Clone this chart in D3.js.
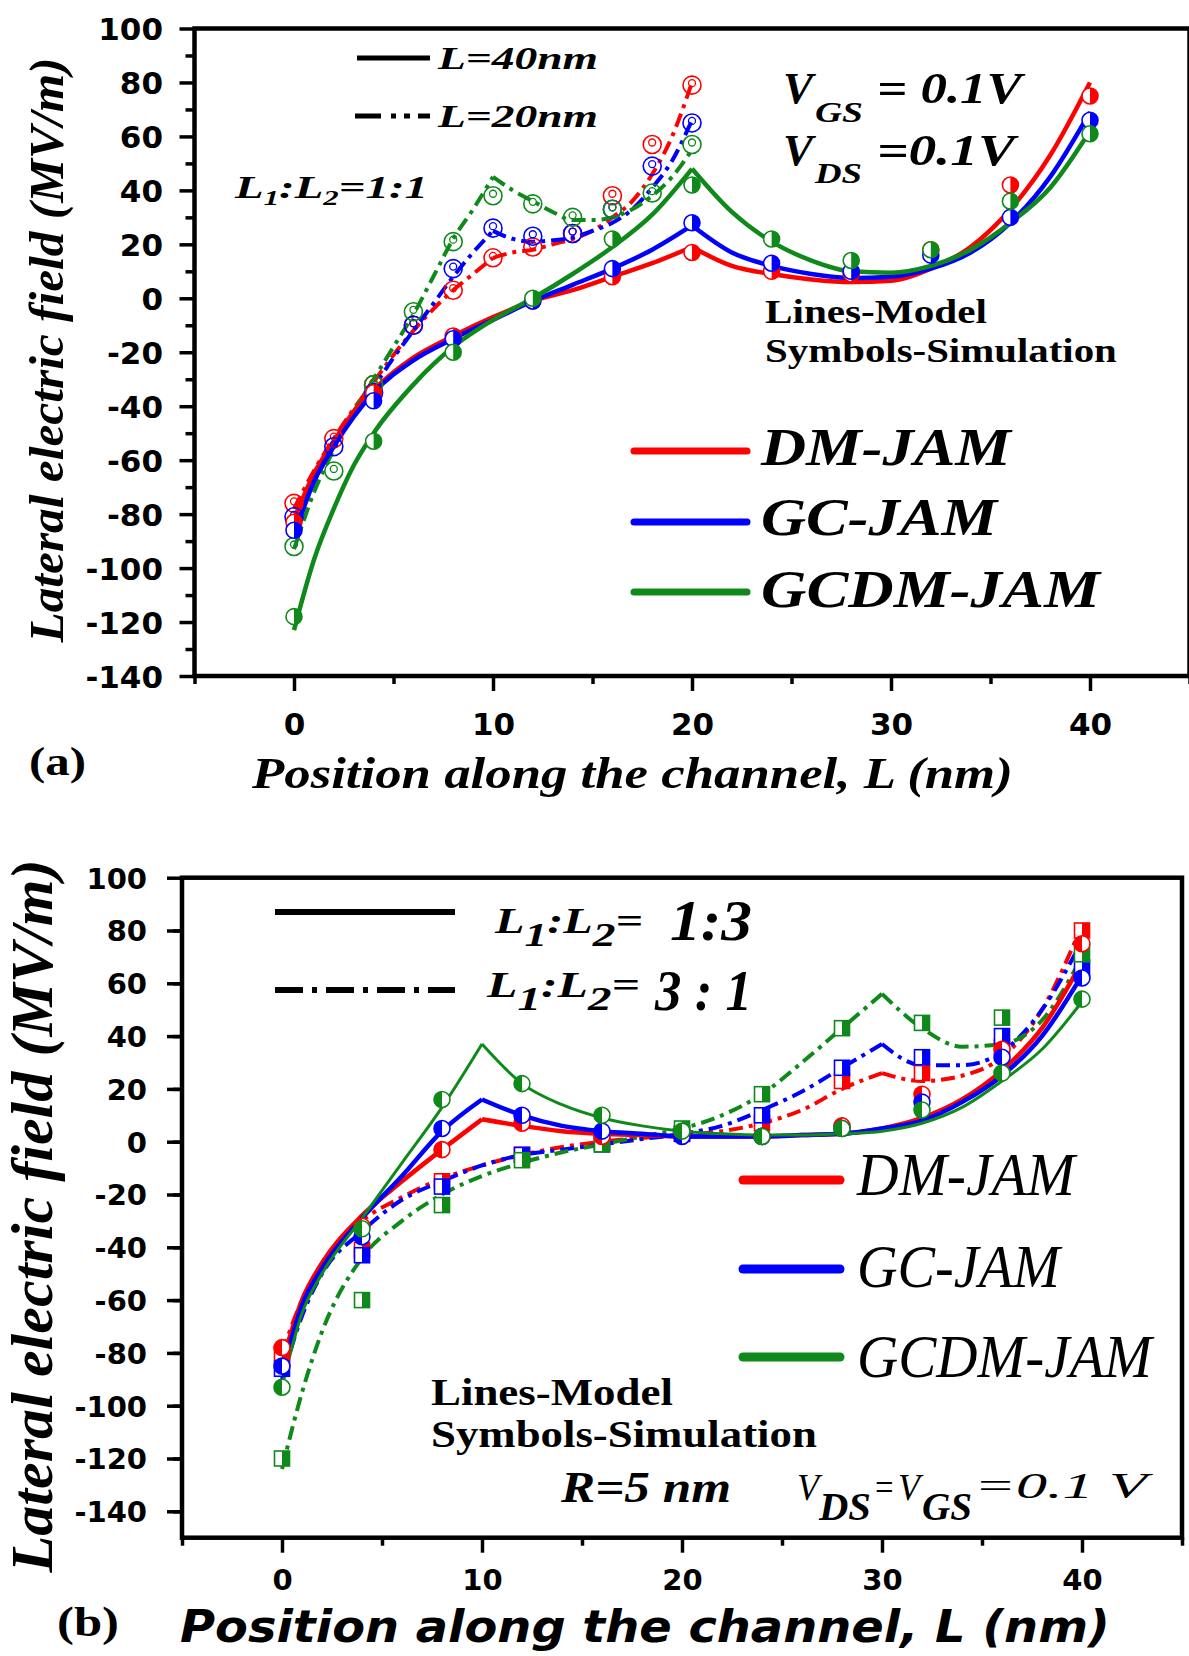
<!DOCTYPE html>
<html>
<head>
<meta charset="utf-8">
<script src="https://cdn.jsdelivr.net/npm/d3@7"></script>
<style>
body { margin: 0; background: #fff; }
svg { display: block; }
</style>
</head>
<body>
<div id="chart"></div>
<script>
// ---------------- data, panel (a) ----------------
const xTicksA = [0, 10, 20, 30, 40]
const yTicksA = [100, 80, 60, 40, 20, 0, -20, -40, -60, -80, -100, -120, -140]

// model, L = 40 nm (solid), cusp at 20
const posA40 = [0, 1, 2, 3, 4, 6, 8, 10, 12, 14, 16, 18, 20, 22, 24, 26, 28, 30, 32, 34, 36, 38, 40]
const dm40   = [-82, -65, -53, -42, -34, -22, -14, -7, -1, 3, 8, 13, 19, 12, 9, 7, 6, 6.5, 11, 19, 33, 53, 80]
const gc40   = [-88, -68, -55, -44, -35, -23, -15, -8, -1, 5, 11, 18, 27, 17, 12, 9, 7.5, 8, 11, 17, 28, 45, 69]
const gcdm40 = [-123, -97, -78, -62, -50, -32, -18, -8, 0, 9, 19, 31, 48, 32, 21, 14, 10, 9.5, 12, 18, 28, 41, 62]

// model, L = 20 nm (dash-dot), cusp at 10
const posA20 = [0, 1, 2, 3, 4, 5, 6, 7, 8, 9, 10, 11, 12, 13, 14, 15, 16, 17, 18, 19, 20]
const dm20   = [-78, -64, -52, -41, -31, -21, -12, -4, 3, 9, 15, 17, 18, 20, 22, 25, 30, 36, 46, 60, 80]
const gc20   = [-84, -68, -55, -43, -33, -22, -12, -2, 8, 17, 25, 22, 21, 21.5, 22.5, 25, 28, 33, 41, 51, 66]
const gcdm20 = [-93, -72, -56, -42, -30, -18, -6, 8, 22, 33, 45, 40, 36, 32, 29, 29, 30, 33, 38, 45, 55]

// simulation symbols
const simPosA40 = [0, 4, 8, 12, 16, 20, 24, 28, 32, 36, 40]
const simDm40   = [-83, -35, -14, -1, 8, 17, 10, 9, 18, 42, 75]
const simGc40   = [-86, -38, -15, -1, 11, 28, 13, 10, 16, 30, 66]
const simGcdm40 = [-118, -53, -20, 0, 22, 42, 22, 14, 18, 36, 61]

const simPosA20 = [0, 2, 4, 6, 8, 10, 12, 14, 16, 18, 20]
const simDm20   = [-76, -52, -32, -10, 3, 15, 19, 24, 38, 57, 79]
const simGc20   = [-81, -55, -35, -10, 11, 26, 23, 24, 33, 49, 65]
const simGcdm20 = [-92, -64, -32, -5, 21, 38, 35, 30, 33, 39, 57]

// ---------------- data, panel (b) ----------------
const xTicksB = [0, 10, 20, 30, 40]
const yTicksB = [100, 80, 60, 40, 20, 0, -20, -40, -60, -80, -100, -120, -140]

const posB  = [0, 1, 2, 4, 6, 8, 10, 12, 14, 16, 18, 20, 22, 24, 26, 28, 30, 32, 34, 36, 38, 40]
// L1:L2 = 1:3 (solid), cusp at 10
const dm13   = [-84, -60, -46, -28, -15, -3, 8.5, 6, 4, 3, 2.5, 2, 2, 2, 2.5, 3, 5, 9, 16, 27, 43, 68]
const gc13   = [-88, -62, -48, -29, -13, 4, 16, 10, 6, 4, 3, 2, 2, 2, 2.5, 3, 5, 8, 15, 25, 40, 63]
const gcdm13 = [-93, -65, -50, -29, -8, 13, 37, 22, 14, 9, 6, 4, 3, 2.5, 2.5, 3, 4, 7, 13, 23, 35, 53]
// L1:L2 = 3:1 (dash-dot), cusp at 30
const dm31   = [-80, -60, -46, -30, -21, -14, -9, -5, -2, 0, 1.5, 2.5, 4, 7, 12, 20, 26, 23, 25, 32, 50, 82]
const gc31   = [-90, -66, -50, -34, -22, -15, -9, -5, -3, -1, 1, 3, 6, 12, 19, 28, 37, 29, 29, 34, 50, 76]
const gcdm31 = [-124, -95, -72, -44, -30, -20, -13, -8, -4, -1, 2, 5, 10, 18, 30, 43, 56, 43, 36, 37, 46, 70]

const simPosB   = [0, 4, 8, 12, 16, 20, 24, 28, 32, 36, 40]
const simDm13   = [-78, -32, -3, 7, 2, 3, 2, 6, 18, 35, 75]
const simGc13   = [-85, -36, 5, 10, 4, 2, 2, 5, 15, 32, 62]
const simGcdm13 = [-93, -33, 16, 22, 10, 4, 2, 5, 12, 26, 54]
const simDm31   = [-80, -41, -15, -5, 0, 3, 7, 23, 26, 36, 80]
const simGc31   = [-86, -43, -17, -5, -1, 3, 10, 28, 32, 40, 66]
const simGcdm31 = [-120, -60, -24, -7, -1, 5, 18, 43, 45, 47, 71]

const devices = ["DM-JAM", "GC-JAM", "GCDM-JAM"]
const colors = {"DM-JAM": "#ff0000", "GC-JAM": "#0000ff", "GCDM-JAM": "#0f8a1a"}

// ----------------------------------------------------------
const width = 1189
const height = 1656
const SERIF = "'Liberation Serif', 'Times New Roman', serif"
const SANS = "'DejaVu Sans', sans-serif"
const DASH = "14,6,4,6"

const svg = d3.select("div#chart").append("svg").attr("width", width).attr("height", height)
svg.append("rect").attr("width", width).attr("height", height).attr("fill", "#fff")

const xA = d3.scaleLinear().domain([-5, 45]).range([194.5, 1189.5])
const yA = d3.scaleLinear().domain([-140, 100]).range([676, 28.5])
const xB = d3.scaleLinear().domain([-5, 45]).range([182, 1182])
const yB = d3.scaleLinear().domain([-150, 100]).range([1537.7, 877.7])

// text helper: parts are tspans, w = target width (stretches horizontally)
function label(g, x, y, w, parts, base) {
    const t = g.append("text")
        .attr("transform", `translate(${x},${y})`)
        .style("font-family", base.family || SERIF)
        .style("font-weight", base.weight || "bold")
        .style("font-style", base.style || "normal")
        .style("font-size", base.size + "px")
        .attr("fill", "#000")
    parts.forEach(p => {
        const s = t.append("tspan").text(p.t)
        if (p.dy) s.attr("dy", p.dy)
        if (p.size) s.style("font-size", p.size + "px")
        if (p.weight) s.style("font-weight", p.weight)
    })
    if (w) {
        const bw = t.node().getComputedTextLength()
        t.attr("transform", `translate(${x},${y}) scale(${w / bw},1)`)
    }
    return t
}

function drawAxes(g, x, y, o) {
    const [x0, x1] = x.range()
    const [y0, y1] = y.range()
    g.append("rect").attr("x", x0).attr("y", y1).attr("width", x1 - x0).attr("height", y0 - y1)
        .attr("fill", "none").attr("stroke", "#000").attr("stroke-width", 4.5)

    const yMinor = d3.range(o.yMin + 10, 100, 20)
    const gyMinor = g.append("g").attr("transform", `translate(${x0},0)`)
        .call(d3.axisLeft(y).tickValues(yMinor).tickSize(9).tickFormat(""))
    const gy = g.append("g").attr("transform", `translate(${x0},0)`)
        .call(d3.axisLeft(y).tickValues(o.yTicks).tickSize(15).tickPadding(o.yPad).tickFormat(d => String(d)))

    const xMinor = [-5, 5, 15, 25, 35, 45]
    const gxMinor = g.append("g").attr("transform", `translate(0,${y0})`)
        .call(d3.axisBottom(x).tickValues(xMinor).tickSize(8).tickFormat(""))
    const gx = g.append("g").attr("transform", `translate(0,${y0})`)
        .call(d3.axisBottom(x).tickValues(o.xTicks).tickSize(15).tickPadding(o.xPad).tickFormat(d => String(d)))

    ;[gyMinor, gy, gxMinor, gx].forEach(a => {
        a.select(".domain").remove()
        a.selectAll("line").attr("stroke", "#000").attr("stroke-width", 3.5)
    })
    ;[gy, gx].forEach(a => a.selectAll("text")
        .attr("fill", "#000")
        .style("font-family", SANS).style("font-weight", "bold").style("font-size", o.tickSize + "px"))
    gy.selectAll("text").attr("dy", "0.36em")
}

function drawModel(g, x, y, xs, ys, cusp, color, dash, sw) {
    const pts = xs.map((v, i) => [v, ys[i]])
    const line = d3.line().x(d => x(d[0])).y(d => y(d[1])).curve(d3.curveMonotoneX)
    ;[pts.filter(p => p[0] <= cusp), pts.filter(p => p[0] >= cusp)].forEach(seg => {
        if (seg.length < 2) return
        g.append("path").datum(seg).attr("d", line)
            .attr("fill", "none").attr("stroke", color).attr("stroke-width", sw)
            .attr("stroke-dasharray", dash ? DASH : null)
            .attr("stroke-linejoin", "round")
    })
}

function halfCircles(g, x, y, xs, ys, color, side, r) {
    const sweep = side === "right" ? 1 : 0
    const m = g.append("g").selectAll("g").data(xs.map((v, i) => [v, ys[i]])).join("g")
        .attr("transform", d => `translate(${x(d[0])},${y(d[1])})`)
    m.append("circle").attr("r", r).attr("fill", "#fff").attr("stroke", color).attr("stroke-width", 1.6)
    m.append("path").attr("d", `M0,${-r}A${r},${r} 0 0 ${sweep} 0,${r}Z`).attr("fill", color)
}

function ringCircles(g, x, y, xs, ys, color) {
    const m = g.append("g").selectAll("g").data(xs.map((v, i) => [v, ys[i]])).join("g")
        .attr("transform", d => `translate(${x(d[0])},${y(d[1])})`)
    m.append("circle").attr("r", 9).attr("fill", "none").attr("stroke", color).attr("stroke-width", 1.6)
    m.append("circle").attr("cy", -2).attr("r", 3.5).attr("fill", "none").attr("stroke", color).attr("stroke-width", 1.3)
}

function halfSquares(g, x, y, xs, ys, color) {
    const s = 7.5
    const m = g.append("g").selectAll("g").data(xs.map((v, i) => [v, ys[i]])).join("g")
        .attr("transform", d => `translate(${x(d[0])},${y(d[1])})`)
    m.append("rect").attr("x", -s).attr("y", -s).attr("width", 2 * s).attr("height", 2 * s)
        .attr("fill", "#fff").attr("stroke", color).attr("stroke-width", 1.6)
    m.append("rect").attr("x", 0).attr("y", -s).attr("width", s).attr("height", 2 * s).attr("fill", color)
}

// ================= panel (a) =================
const gA = svg.append("g").attr("id", "panelA")
drawAxes(gA, xA, yA, {yTicks: yTicksA, xTicks: xTicksA, yMin: -140, yPad: 16.5, xPad: 22, tickSize: 31})

const modelA40 = [dm40, gc40, gcdm40], modelA20 = [dm20, gc20, gcdm20]
const simA40 = [simDm40, simGc40, simGcdm40], simA20 = [simDm20, simGc20, simGcdm20]
devices.forEach((dev, i) => drawModel(gA, xA, yA, posA20, modelA20[i], 10, colors[dev], true, 4))
devices.forEach((dev, i) => drawModel(gA, xA, yA, posA40, modelA40[i], 20, colors[dev], false, 4.5))
devices.forEach((dev, i) => ringCircles(gA, xA, yA, simPosA20, simA20[i], colors[dev]))
devices.forEach((dev, i) => halfCircles(gA, xA, yA, simPosA40, simA40[i], colors[dev], "right", 8))

// legend (line styles)
gA.append("line").attr("x1", 357).attr("x2", 430).attr("y1", 58).attr("y2", 58).attr("stroke", "#000").attr("stroke-width", 5)
gA.append("line").attr("x1", 355).attr("x2", 430).attr("y1", 116).attr("y2", 116).attr("stroke", "#000").attr("stroke-width", 5)
    .attr("stroke-dasharray", "26,10,5,8,6,8")
const bi = {size: 32, style: "italic"}
label(gA, 438, 69, 160, [{t: "L=40nm"}], bi)
label(gA, 438, 127, 160, [{t: "L=20nm"}], bi)
label(gA, 235, 198, 193, [{t: "L"}, {t: "1", size: 21, dy: 7}, {t: ":L", dy: -7}, {t: "2", size: 21, dy: 7}, {t: "=1:1", dy: -7}], bi)

const bv = {size: 45, style: "italic"}
label(gA, 783, 103, 30, [{t: "V"}], bv)
label(gA, 815, 122, 48, [{t: "GS"}], {size: 30, style: "italic"})
label(gA, 877, 103, 145, [{t: "= 0.1V"}], bv)
label(gA, 783, 165, 30, [{t: "V"}], bv)
label(gA, 815, 183, 47, [{t: "DS"}], {size: 30, style: "italic"})
label(gA, 877, 165, 138, [{t: "=0.1V"}], bv)

label(gA, 765, 323, 222, [{t: "Lines-Model"}], {size: 33})
label(gA, 765, 362, 352, [{t: "Symbols-Simulation"}], {size: 33})

// legend (devices)
const legA = [{y: 451, base: 465, w: 250}, {y: 522, base: 535, w: 236}, {y: 592, base: 607, w: 339}]
devices.forEach((dev, i) => {
    gA.append("line").attr("x1", 634).attr("x2", 747).attr("y1", legA[i].y).attr("y2", legA[i].y)
        .attr("stroke", colors[dev]).attr("stroke-width", 7).attr("stroke-linecap", "round")
    label(gA, 761, legA[i].base, legA[i].w, [{t: dev}], {size: 52, style: "italic"})
})

label(gA, 252, 788, 761, [{t: "Position along the channel, L (nm)"}], {size: 45, style: "italic"})
label(gA, 29, 775, 57, [{t: "(a)"}], {size: 40})
gA.append("text").attr("transform", "translate(63,350) rotate(-90)")
    .attr("text-anchor", "middle").attr("textLength", 585).attr("lengthAdjust", "spacingAndGlyphs")
    .style("font-family", SERIF).style("font-weight", "bold").style("font-style", "italic").style("font-size", "49px")
    .text("Lateral electric field (MV/m)")

// ================= panel (b) =================
const gB = svg.append("g").attr("id", "panelB")
drawAxes(gB, xB, yB, {yTicks: yTicksB, xTicks: xTicksB, yMin: -150, yPad: 20, xPad: 17, tickSize: 29})

const modelB13 = [dm13, gc13, gcdm13], modelB31 = [dm31, gc31, gcdm31]
const simB13 = [simDm13, simGc13, simGcdm13], simB31 = [simDm31, simGc31, simGcdm31]
const swB13 = [4.5, 4.5, 3]
devices.forEach((dev, i) => drawModel(gB, xB, yB, posB, modelB31[i], 30, colors[dev], true, 4))
devices.forEach((dev, i) => drawModel(gB, xB, yB, posB, modelB13[i], 10, colors[dev], false, swB13[i]))
devices.forEach((dev, i) => halfSquares(gB, xB, yB, simPosB, simB31[i], colors[dev]))
devices.forEach((dev, i) => halfCircles(gB, xB, yB, simPosB, simB13[i], colors[dev], "left", 8))

gB.append("line").attr("x1", 275).attr("x2", 455).attr("y1", 912).attr("y2", 912).attr("stroke", "#000").attr("stroke-width", 6)
gB.append("line").attr("x1", 275).attr("x2", 455).attr("y1", 990).attr("y2", 990).attr("stroke", "#000").attr("stroke-width", 6)
    .attr("stroke-dasharray", "28,9,5,9")
const bib = {size: 36, style: "italic"}
label(gB, 495, 933, 148, [{t: "L"}, {t: "1", size: 34, dy: 13}, {t: ":L", dy: -13}, {t: "2", size: 34, dy: 13}, {t: "=", dy: -13}], bib)
label(gB, 670, 940, 82, [{t: "1:3"}], {size: 56, style: "italic"})
label(gB, 487, 997, 153, [{t: "L"}, {t: "1", size: 34, dy: 13}, {t: ":L", dy: -13}, {t: "2", size: 34, dy: 13}, {t: "=", dy: -13}], bib)
label(gB, 655, 1010, 97, [{t: "3 : 1"}], {size: 56, style: "italic"})

const legB = [{y: 1180, base: 1195, w: 218}, {y: 1269, base: 1287, w: 203}, {y: 1357, base: 1377, w: 295}]
devices.forEach((dev, i) => {
    gB.append("line").attr("x1", 743).attr("x2", 840).attr("y1", legB[i].y).attr("y2", legB[i].y)
        .attr("stroke", colors[dev]).attr("stroke-width", 9).attr("stroke-linecap", "round")
    label(gB, 857, legB[i].base, legB[i].w, [{t: dev}], {size: 62, style: "italic", weight: "normal"})
})

label(gB, 431, 1405, 242, [{t: "Lines-Model"}], {size: 37})
label(gB, 431, 1447, 386, [{t: "Symbols-Simulation"}], {size: 37})
label(gB, 561, 1502, 170, [{t: "R=5 nm"}], {size: 44, style: "italic"})

const vn = {size: 38, style: "italic", weight: "normal"}
label(gB, 797, 1500, 22, [{t: "V"}], vn)
label(gB, 819, 1520, 52, [{t: "DS"}], {size: 40, style: "italic"})
label(gB, 873, 1500, 22, [{t: "="}], vn)
label(gB, 898, 1500, 22, [{t: "V"}], vn)
label(gB, 922, 1520, 50, [{t: "GS"}], {size: 40, style: "italic"})
label(gB, 974, 1498, 173, [{t: "=0.1 V"}], {size: 36, style: "italic", weight: "normal"})

label(gB, 180, 1642, 930, [{t: "Position along the channel, L (nm)"}], {size: 44, style: "italic", family: SANS})
label(gB, 57, 1636, 62, [{t: "(b)"}], {size: 42})
gB.append("text").attr("transform", "translate(52,1216) rotate(-90)")
    .attr("text-anchor", "middle").attr("textLength", 713).attr("lengthAdjust", "spacingAndGlyphs")
    .style("font-family", SERIF).style("font-weight", "bold").style("font-style", "italic").style("font-size", "60px")
    .text("Lateral electric field (MV/m)")
</script>
</body>
</html>
